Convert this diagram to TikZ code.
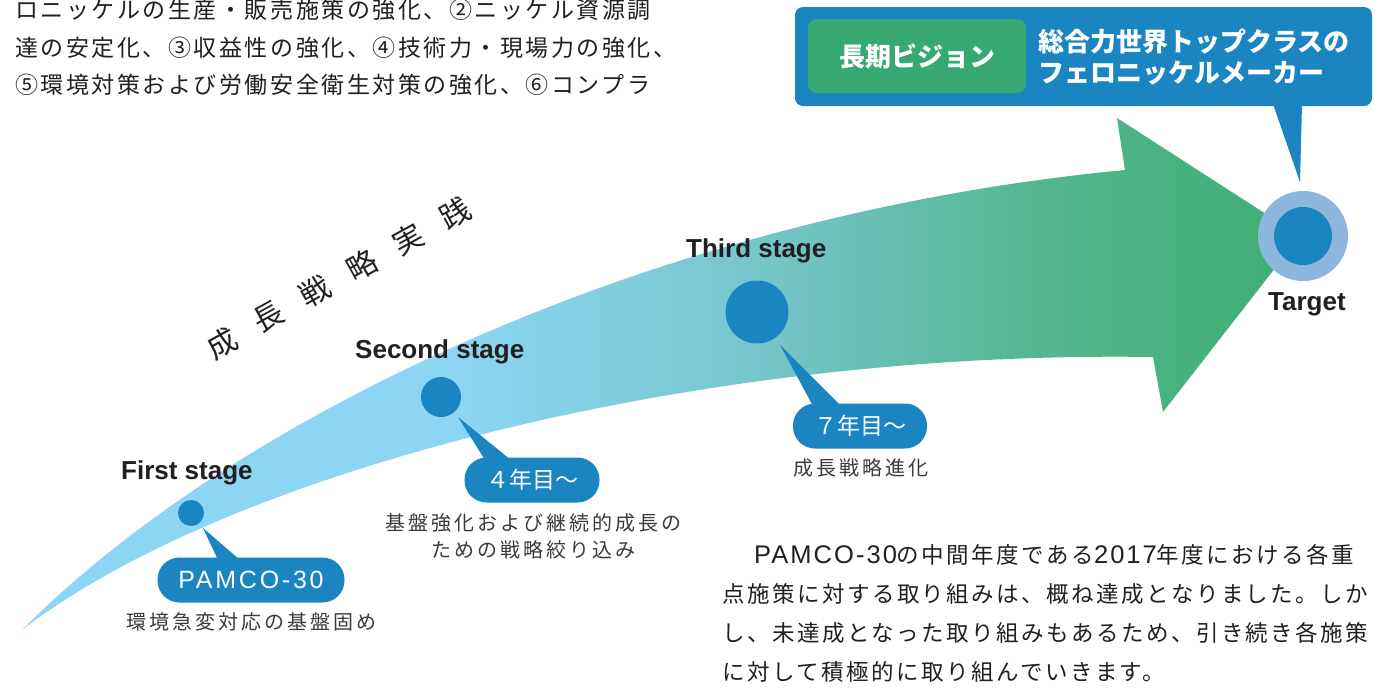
\documentclass[tikz,border=0pt]{standalone}
\usepackage{fontspec}
\setmainfont{Liberation Sans}
\newfontfamily\jp{Noto Sans CJK JP}
\newfontfamily\jpa[LetterSpace=11]{Noto Sans CJK JP}
\newfontfamily\jpb[LetterSpace=15]{Noto Sans CJK JP}
\newfontfamily\lsans[LetterSpace=11]{Liberation Sans}
\newfontfamily\lsansp[LetterSpace=8]{Liberation Sans}
\newcommand{\latinp}[1]{{\lsansp\fontsize{25.5}{25.5}\selectfont #1}}
\usetikzlibrary{calc}
\definecolor{dotblue}{HTML}{1B85C1}
\definecolor{boxgreen}{HTML}{37A872}
\definecolor{ringblue}{HTML}{8CB6DB}
\definecolor{txt}{HTML}{231F20}
\definecolor{txtb}{HTML}{3E3A39}
\definecolor{cA}{HTML}{8CD6F4}
\definecolor{cB}{HTML}{78C7CF}
\definecolor{cC}{HTML}{57B794}
\definecolor{cD}{HTML}{3DAD72}
\pgfdeclarehorizontalshading{arrowshade}{100bp}{color(0bp)=(cA); color(25bp)=(cA); color(42bp)=(cA); color(53bp)=(cB); color(64bp)=(cC); color(75bp)=(cD); color(100bp)=(cD)}
\begin{document}
\begin{tikzpicture}[x=1pt,y=-1pt,
  dot/.style={circle,fill=dotblue,inner sep=0pt},
  pill/.style={fill=dotblue,rounded corners=22pt,inner sep=0pt,text=white,minimum height=45pt},
  stagelbl/.style={anchor=base west,inner sep=0pt,text=txt,font=\bfseries\fontsize{26}{26}\selectfont},
  sublbl/.style={inner sep=0pt,text=txtb,align=center,font=\jpb\fontsize{20}{27}\selectfont},
  bodytxt/.style={anchor=west,inner sep=0pt,text=txt,font=\jpa\fontsize{23}{23}\selectfont},
  paratxt/.style={anchor=west,inner sep=0pt,text=txt,font=\jpa\fontsize{22.5}{22.5}\selectfont},
  vertch/.style={inner sep=0pt,text=txt,rotate=29,font=\jp\fontsize{30}{30}\selectfont}]
\useasboundingbox[fill=white] (0,0) rectangle (1379,697);

% top-left text
\node[bodytxt] (t1) at (15,10) {ロニッケルの生産・販売施策の強化、②ニッケル資源調};
\node[bodytxt] (t2) at (15,48) {達の安定化、③収益性の強化、④技術力・現場力の強化、};
\node[bodytxt] (t3) at (15,85) {⑤環境対策および労働安全衛生対策の強化、⑥コンプラ};

% big arrow
\shade[shading=arrowshade]
  (22,630) .. controls (230,420) and (650,215) .. (1125,170)
  -- (1117,118) -- (1300,236) -- (1163,412) -- (1153,357)
  .. controls (700,350) and (230,470) .. (22,630) -- cycle;

% rotated heading
\foreach \c [count=\i from 0] in {成,長,戦,略,実,践}
  \node[vertch] (v\i) at ({222+46.6*\i},{343-26*\i}) {\c};

% vision box
\node[fill=dotblue,rounded corners=8pt,minimum width=577pt,minimum height=99pt,inner sep=0pt] (vbox) at (1083.5,56.5) {};
\coordinate (vbl) at (1273,104);
\coordinate (vbr) at (1302,104);
\coordinate (vp) at (1300,182);
\fill[dotblue] (vbl) -- (vp) -- (vbr) -- cycle;
\node[fill=boxgreen,rounded corners=9pt,minimum width=218pt,minimum height=74pt,inner sep=0pt,text=white,font=\jp\bfseries\fontsize{26}{26}\selectfont] (vgreen) at (917,56) {長期ビジョン};
\node[anchor=west,align=left,inner sep=0pt,text=white,font=\jp\bfseries\fontsize{26}{31}\selectfont] (vtext) at (1038,57.5) {総合力世界トップクラスの\\フェロニッケルメーカー};

% target
\node[dot,fill=ringblue,minimum size=90pt] (tgtring) at (1303,236) {};
\node[dot,minimum size=58pt] (tgt) at (1303,236) {};
\node[stagelbl] (tgtlbl) at (1268,310) {Target};

% stage dots
\node[dot,minimum size=26pt] (d1) at (191,513) {};
\node[dot,minimum size=40pt] (d2) at (441,397) {};
\node[dot,minimum size=63pt] (d3) at (757,312) {};

\node[stagelbl] (s1) at (121,479) {First stage};
\node[stagelbl] (s2) at (355,358) {Second stage};
\node[stagelbl] (s3) at (686,257) {Third stage};

% pills
\node[pill,minimum width=187pt,font=\lsans\fontsize{25}{25}\selectfont] (p1) at (251,580) {PAMCO-30};
\node[pill,minimum width=135pt,font=\jp\fontsize{23}{23}\selectfont] (p2) at (532,480) {４年目～};
\node[pill,minimum width=134pt,font=\jp\fontsize{23}{23}\selectfont] (p3) at (860,426) {７年目～};

\coordinate (a1) at (203,528);
\coordinate (a1l) at (218,560);
\coordinate (a1r) at (240,560);
\fill[dotblue] (a1) -- (a1l) -- (a1r) -- cycle;
\coordinate (a2) at (458,417);
\coordinate (a2l) at (485,460);
\coordinate (a2r) at (511,460);
\fill[dotblue] (a2) -- (a2l) -- (a2r) -- cycle;
\coordinate (a3) at (780,345);
\coordinate (a3l) at (813,406);
\coordinate (a3r) at (841,406);
\fill[dotblue] (a3) -- (a3l) -- (a3r) -- cycle;

% sub labels
\node[sublbl] (l1) at (251,622) {環境急変対応の基盤固め};
\node[sublbl] (l2) at (533,536.5) {基盤強化および継続的成長の\\ための戦略絞り込み};
\node[sublbl] (l3) at (861,468) {成長戦略進化};

% paragraph
\node[paratxt] (q1) at (722,555) {\hspace*{32pt}\latinp{PAMCO-30}の中間年度である\latinp{2017}年度における各重};
\node[paratxt] (q2) at (722,594) {点施策に対する取り組みは、概ね達成となりました。しか};
\node[paratxt] (q3) at (722,633) {し、未達成となった取り組みもあるため、引き続き各施策};
\node[paratxt] (q4) at (722,672) {に対して積極的に取り組んでいきます。};
\end{tikzpicture}
\end{document}
